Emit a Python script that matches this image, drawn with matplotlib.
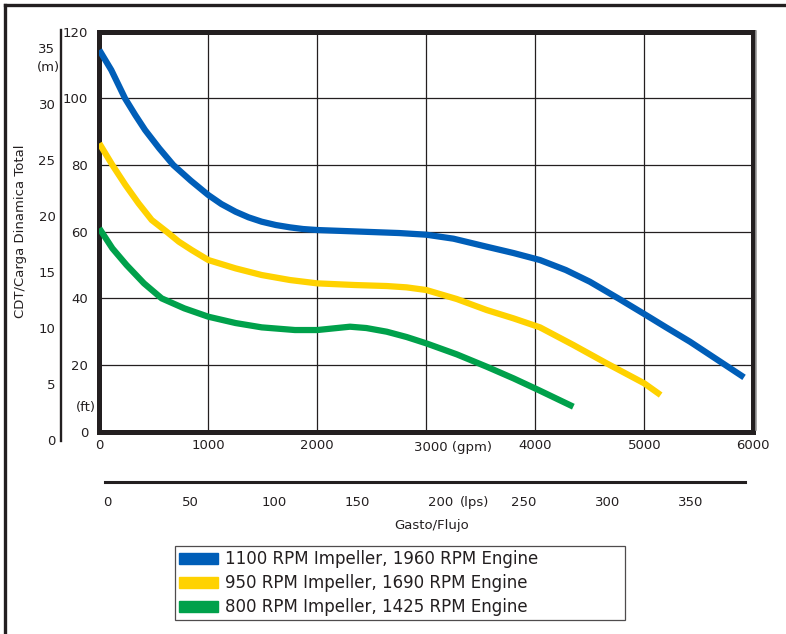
import matplotlib
matplotlib.use('Agg')
import matplotlib.pyplot as plt
import matplotlib.patches as mpatches
from matplotlib.lines import Line2D

# ── DATA ──────────────────────────────────────────────────────
blue_gpm = [0, 110, 236, 330, 420, 550, 679, 840, 1000, 1120, 1250, 1370,
            1490, 1620, 1750, 1870, 2000, 2250, 2500, 2750, 3000, 3250,
            3554, 3800, 4043, 4280, 4500, 4761, 5000, 5200, 5419, 5660, 5915]
blue_ft = [114.5, 108.5, 100, 95, 90.5, 85, 80, 75.3, 71, 68.3, 66, 64.3,
           63, 62, 61.3, 60.8, 60.5, 60.2, 59.9, 59.6, 59.1, 57.9,
           55.5, 53.6, 51.5, 48.5, 45, 40, 35.3, 31.3, 27, 21.8, 16.3]

yellow_gpm = [0, 120, 240, 360, 481, 618, 730, 848, 1000, 1250, 1490, 1750,
              2000, 2346, 2637, 2820, 3000, 3280, 3554, 3800, 4043, 4350,
              4655, 5000, 5150]
yellow_ft = [86.5, 80, 74, 68.5, 63.5, 60, 57, 54.5, 51.5, 49, 47, 45.5,
             44.5, 44, 43.7, 43.3, 42.5, 39.8, 36.5, 34, 31.3, 26,
             20.5, 14.5, 11]

green_gpm = [0, 120, 250, 410, 572, 780, 1000, 1250, 1490, 1795, 2000, 2150,
             2300, 2450, 2637, 2820, 3000, 3280, 3554, 3800, 4030, 4349]
green_ft = [61, 55, 50, 44.5, 40, 37, 34.5, 32.6, 31.3, 30.5, 30.5, 31,
            31.5, 31.1, 30, 28.4, 26.5, 23.2, 19.5, 16, 12.5, 7.5]

series_labels = ['1100 RPM Impeller, 1960 RPM Engine',
                 '950 RPM Impeller, 1690 RPM Engine',
                 '800 RPM Impeller, 1425 RPM Engine']
series_colors = ['#005eb8', '#ffd200', '#00a14b']

gpm_ticks = [0, 1000, 2000, 3000, 4000, 5000, 6000]
ft_ticks = [0, 20, 40, 60, 80, 100, 120]
m_ticks = [0, 5, 10, 15, 20, 25, 30, 35]
lps_ticks = [0, 50, 100, 150, 200, 250, 300, 350]

# ── FIGURE ────────────────────────────────────────────────────
W, H = 786, 634
INK = '#231f20'
plt.rcParams['font.family'] = 'DejaVu Sans'

fig = plt.figure(figsize=(W / 100, H / 100), dpi=100)
fig.patch.set_facecolor('white')


def px(x0, y0, x1, y1):
    return [x0 / W, 1 - y1 / H, (x1 - x0) / W, (y1 - y0) / H]


# outer frame lines (top + left)
fig.add_artist(Line2D([5 / W, 1], [1 - 5 / H, 1 - 5 / H], color=INK, lw=2.4,
                      transform=fig.transFigure))
fig.add_artist(Line2D([5 / W, 5 / W], [0, 1 - 5 / H], color=INK, lw=2.4,
                      transform=fig.transFigure))

# ── main chart (gpm vs ft) ──
ax = fig.add_axes(px(99.3, 31.7, 753.3, 431.7))
ax.set_xlim(0, 6000)
ax.set_ylim(0, 120)
ax.set_xticks(gpm_ticks)
ax.set_xticklabels([str(t) if t != 3000 else '' for t in gpm_ticks],
                   fontsize=9.5, color=INK)
ax.set_yticks(ft_ticks)
ax.set_yticklabels([str(t) for t in ft_ticks], fontsize=9.5, color=INK)
ax.tick_params(length=0)
ax.tick_params(axis='x', pad=5)
ax.tick_params(axis='y', pad=8)
ax.grid(True, color=INK, lw=0.9)
for s in ax.spines.values():
    s.set_linewidth(3.6)
    s.set_color(INK)

for xs, ys, c in zip([blue_gpm, yellow_gpm, green_gpm],
                     [blue_ft, yellow_ft, green_ft], series_colors):
    ax.plot(xs, ys, color=c, lw=4.5, solid_capstyle='butt',
            solid_joinstyle='round', zorder=3)

ax.annotate('3000 (gpm)', xy=(3000, 0), xycoords=('data', 'axes fraction'),
            xytext=(-9, -7), textcoords='offset points',
            ha='left', va='top', fontsize=9.5, color=INK)

# grey edge next to the right spine
fig.add_artist(Line2D([756 / W, 756 / W], [1 - 430 / H, 1 - 31 / H],
                      color='#9a9a9a', lw=1.2, transform=fig.transFigure))

# ── metre scale on the far left ──
axm = fig.add_axes(px(61, 30, 62, 441))
axm.set_ylim(-0.09, 36.6)
axm.set_xticks([])
axm.set_yticks(m_ticks)
axm.set_yticklabels([str(t) for t in m_ticks], fontsize=9.5, color=INK)
axm.tick_params(length=0, pad=4)
for k in ['top', 'right', 'bottom']:
    axm.spines[k].set_visible(False)
axm.spines['left'].set_linewidth(1.7)
axm.spines['left'].set_color(INK)
axm.patch.set_alpha(0)

# ── lps scale under the chart ──
axl = fig.add_axes(px(105, 470, 745, 482))
axl.set_xlim(-1.2, 382.7)
axl.set_yticks([])
axl.set_xticks(lps_ticks)
axl.set_xticklabels([str(t) for t in lps_ticks], fontsize=9.5, color=INK)
axl.tick_params(length=0, pad=10)
for k in ['top', 'right', 'left']:
    axl.spines[k].set_visible(False)
axl.spines['bottom'].set_linewidth(2.2)
axl.spines['bottom'].set_color(INK)
axl.patch.set_alpha(0)
axl.annotate('(lps)', xy=(200, 0), xycoords=('data', 'axes fraction'),
             xytext=(14, -10), textcoords='offset points',
             ha='left', va='top', fontsize=9.5, color=INK)

# ── axis titles and unit marks ──
fig.text(432 / W, 1 - 525 / H, 'Gasto/Flujo', ha='center', va='center',
         fontsize=9.5, color=INK)
fig.text(21 / W, 1 - 231 / H, 'CDT/Carga Dinamica Total', rotation=90,
         ha='center', va='center', fontsize=9.5, color=INK)
fig.text(48 / W, 1 - 67 / H, '(m)', ha='center', va='center',
         fontsize=9.5, color=INK)
fig.text(86 / W, 1 - 408 / H, '(ft)', ha='center', va='center',
         fontsize=9.5, color=INK)

# ── legend ──
handles = [mpatches.Patch(color=c, label=l)
           for c, l in zip(series_colors, series_labels)]
leg = fig.legend(handles=handles, loc='upper left',
                 bbox_to_anchor=(175 / W, 1 - 620 / H, 450 / W, 74 / H),
                 bbox_transform=fig.transFigure, mode='expand',
                 borderaxespad=0, fontsize=12, frameon=True, fancybox=False,
                 handlelength=2.3, handleheight=0.66, handletextpad=0.46,
                 labelspacing=0.36, borderpad=0.25)
leg.get_frame().set_edgecolor(INK)
leg.get_frame().set_linewidth(0.9)
for t in leg.get_texts():
    t.set_color(INK)

fig.savefig('out.png', dpi=100, facecolor='white')
